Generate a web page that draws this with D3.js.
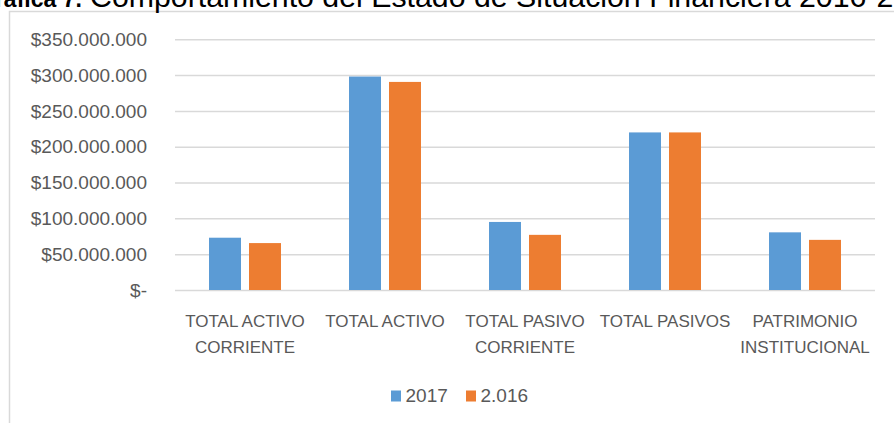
<!DOCTYPE html>
<html>
<head>
<meta charset="utf-8">
<script src="https://cdn.jsdelivr.net/npm/d3@7"></script>
<style>
  body { margin: 0; background: #fff; }
  svg { display: block; font-family: "Liberation Sans", Arial, sans-serif; }
</style>
</head>
<body>
<svg id="chart"></svg>
<script>
var categories = [
  ["TOTAL ACTIVO", "CORRIENTE"],
  ["TOTAL ACTIVO"],
  ["TOTAL PASIVO", "CORRIENTE"],
  ["TOTAL PASIVOS"],
  ["PATRIMONIO", "INSTITUCIONAL"]
];
var series = ["2017", "2.016"];
var values2017 = [73000000, 298000000, 95000000, 220000000, 80500000];
var values2016 = [65500000, 290500000, 77000000, 220000000, 70000000];
var yTicks = [0, 50000000, 100000000, 150000000, 200000000, 250000000, 300000000, 350000000];
var colors = ["#5b9bd5", "#ed7d31"];

var width = 894,
    height = 423;

var svg = d3.select("#chart")
    .attr("width", width)
    .attr("height", height);

// chart frame (runs off the right and bottom edge)
svg.append("rect")
    .attr("x", 9.5).attr("y", 11.5)
    .attr("width", 1000).attr("height", 500)
    .attr("fill", "#fff")
    .attr("stroke", "#d9d9d9")
    .attr("stroke-width", 1.5);

// title, clipped by the top edge like in the source
var title = svg.append("text")
    .attr("x", -23).attr("y", 7);
title.append("tspan")
    .attr("font-size", 23)
    .attr("font-weight", "bold")
    .text("Gráfica 7.");
title.append("tspan")
    .attr("x", 90)
    .attr("font-size", 30.3)
    .text("Comportamiento del Estado de Situación Financiera 2016-2017");

var keys = categories.map(function(d) { return d.join(" "); });

var x0 = d3.scaleBand()
    .domain(keys)
    .range([175, 875]);

var x1 = d3.scaleBand()
    .domain(series)
    .range([0, x0.bandwidth()])
    .paddingInner(0.2)
    .paddingOuter(0.85);

var y = d3.scaleLinear()
    .domain([0, 350000000])
    .range([290, 39.3]);

var locale = d3.formatLocale({decimal: ",", thousands: ".", grouping: [3], currency: ["$", ""]});
var fmt = locale.format("$,.0f");

var yAxis = svg.append("g")
    .attr("transform", "translate(175,0)")
    .call(d3.axisLeft(y)
        .tickValues(yTicks)
        .tickSize(-700)
        .tickPadding(28)
        .tickFormat(function(d) { return d === 0 ? "$-" : fmt(d); }));

yAxis.select(".domain").remove();
yAxis.selectAll(".tick line")
    .attr("stroke", "#d9d9d9")
    .attr("stroke-width", 1.5);
yAxis.selectAll(".tick text")
    .attr("fill", "#595959")
    .attr("font-size", 19)
    .attr("font-family", "Liberation Sans, Arial, sans-serif");

var rows = keys.map(function(k, i) {
  return {key: k, vals: [values2017[i], values2016[i]]};
});

var groups = svg.append("g").selectAll("g")
    .data(rows)
    .join("g")
    .attr("transform", function(d) { return "translate(" + x0(d.key) + ",0)"; });

groups.selectAll("rect")
    .data(function(d) { return d.vals.map(function(v, j) { return {s: series[j], v: v, j: j}; }); })
    .join("rect")
    .attr("x", function(d) { return x1(d.s); })
    .attr("y", function(d) { return y(d.v); })
    .attr("width", x1.bandwidth())
    .attr("height", function(d) { return y(0) - y(d.v); })
    .attr("fill", function(d) { return colors[d.j]; });

// category labels
var labels = svg.append("g").selectAll("text")
    .data(categories)
    .join("text")
    .attr("text-anchor", "middle")
    .attr("fill", "#595959")
    .attr("font-size", 17)
    .attr("transform", function(d, i) { return "translate(" + (x0(keys[i]) + x0.bandwidth() / 2) + ",327)"; });

labels.selectAll("tspan")
    .data(function(d) { return d; })
    .join("tspan")
    .attr("x", 0)
    .attr("y", function(d, i) { return i * 25.5; })
    .text(function(d) { return d; });

// legend
var legendX = [391, 466];
var legend = svg.append("g").selectAll("g")
    .data(series)
    .join("g")
    .attr("transform", function(d, i) { return "translate(" + legendX[i] + ",0)"; });

legend.append("rect")
    .attr("x", 0).attr("y", 390.5)
    .attr("width", 10).attr("height", 11)
    .attr("fill", function(d, i) { return colors[i]; });

legend.append("text")
    .attr("x", 14.5).attr("y", 402)
    .attr("fill", "#595959")
    .attr("font-size", 19)
    .text(function(d) { return d; });
</script>
</body>
</html>
